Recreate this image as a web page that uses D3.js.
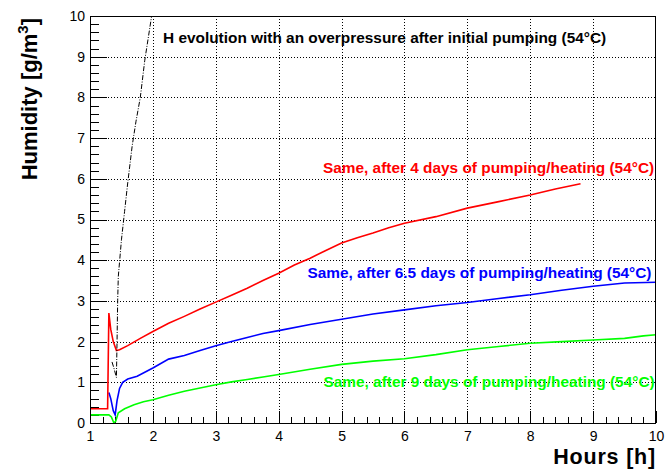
<!DOCTYPE html>
<html>
<head>
<meta charset="utf-8">
<script src="https://cdn.jsdelivr.net/npm/d3@7"></script>
<style>
  html, body { margin: 0; padding: 0; background: #fff; }
  svg { display: block; font-family: "Liberation Sans", Arial, Helvetica, sans-serif; }
</style>
</head>
<body>
<svg id="chart" width="667" height="469"></svg>
<script>
// Humidity readings [g/m^3] against elapsed hours for each run
const initialRun = [
  [1.35, 1.5], [1.38, 1.35], [1.42, 1.12], [1.43, 2.0], [1.44, 3.0], [1.45, 3.6],
  [1.50, 4.5], [1.55, 5.2], [1.60, 5.9], [1.67, 6.8], [1.73, 7.4], [1.80, 8.0],
  [1.87, 8.9], [1.93, 9.5], [1.98, 10.0]
];
const run4days = [
  [1.00, 0.35], [1.28, 0.35], [1.30, 2.7], [1.33, 2.3], [1.37, 2.0], [1.42, 1.78],
  [1.47, 1.8], [1.60, 1.9], [1.80, 2.08], [2.00, 2.25], [2.25, 2.45], [2.50, 2.62],
  [2.75, 2.8], [3.00, 2.97], [3.25, 3.14], [3.50, 3.31], [3.75, 3.5], [4.00, 3.68],
  [4.25, 3.88], [4.50, 4.05], [4.75, 4.24], [5.00, 4.42], [5.25, 4.55], [5.50, 4.67],
  [5.75, 4.8], [6.00, 4.91], [6.50, 5.07], [7.00, 5.28], [7.50, 5.44], [8.00, 5.6],
  [8.40, 5.75], [8.80, 5.88]
];
const run6p5days = [
  [1.30, 0.75], [1.33, 0.6], [1.37, 0.3], [1.40, 0.2], [1.43, 0.55], [1.47, 0.85],
  [1.52, 1.0], [1.60, 1.08], [1.75, 1.15], [2.00, 1.35], [2.25, 1.57], [2.50, 1.66],
  [2.75, 1.78], [3.00, 1.9], [3.25, 2.0], [3.50, 2.1], [3.75, 2.2], [4.00, 2.27],
  [4.50, 2.42], [5.00, 2.55], [5.50, 2.68], [6.00, 2.78], [6.50, 2.88], [7.00, 2.96],
  [7.50, 3.06], [8.00, 3.15], [8.50, 3.26], [9.00, 3.36], [9.50, 3.44], [10.00, 3.46]
];
const run9days = [
  [1.00, 0.2], [1.30, 0.2], [1.34, 0.15], [1.38, 0.0], [1.41, 0.05], [1.45, 0.25],
  [1.55, 0.35], [1.70, 0.45], [1.85, 0.52], [2.00, 0.57], [2.25, 0.68], [2.50, 0.78],
  [2.75, 0.86], [3.00, 0.94], [3.25, 1.01], [3.50, 1.07], [3.75, 1.13], [4.00, 1.19],
  [4.50, 1.32], [5.00, 1.44], [5.50, 1.52], [6.00, 1.58], [6.50, 1.68], [7.00, 1.8],
  [7.50, 1.88], [8.00, 1.96], [8.50, 2.0], [9.00, 2.04], [9.50, 2.08], [9.80, 2.14],
  [10.00, 2.17]
];

const xTicks = [1, 2, 3, 4, 5, 6, 7, 8, 9, 10];
const yTicks = [0, 1, 2, 3, 4, 5, 6, 7, 8, 9, 10];

const seriesLabels = [
  "H evolution with an overpressure after initial pumping (54\u00b0C)",
  "Same, after 4 days of pumping/heating (54\u00b0C)",
  "Same, after 6.5 days of pumping/heating (54\u00b0C)",
  "Same, after 9 days of pumping/heating (54\u00b0C)"
];

const svg = d3.select("#chart");
const plotLeft = 90, plotRight = 656, plotTop = 16, plotBottom = 423;

const x = d3.scaleLinear().domain([1, 10]).range([plotLeft, plotRight]);
const y = d3.scaleLinear().domain([0, 10]).range([plotBottom, plotTop]);

// Grid at major ticks
const grid = svg.append("g").attr("stroke", "#000").attr("stroke-width", 1)
  .attr("stroke-dasharray", "1,2").attr("shape-rendering", "crispEdges");
xTicks.slice(1, -1).forEach(t => {
  grid.append("line").attr("x1", Math.round(x(t)) + 0.5).attr("x2", Math.round(x(t)) + 0.5)
    .attr("y1", plotTop).attr("y2", plotBottom);
});
yTicks.slice(1, -1).forEach(t => {
  grid.append("line").attr("y1", Math.round(y(t)) + 0.5).attr("y2", Math.round(y(t)) + 0.5)
    .attr("x1", plotLeft).attr("x2", plotRight);
});

// Inward ticks
const xMinor = d3.range(1, 10.001, 0.2);
const yMinor = d3.range(0, 10.001, 0.2);
const xAxis = d3.axisBottom(x).tickValues(xTicks).tickSizeInner(-12).tickSizeOuter(0).tickPadding(8.5).tickFormat(d3.format("d"));
const xAxisMinor = d3.axisBottom(x).tickValues(xMinor).tickSizeInner(-6).tickSizeOuter(0).tickFormat("");
const yAxis = d3.axisLeft(y).tickValues(yTicks).tickSizeInner(-17).tickSizeOuter(0).tickPadding(5).tickFormat(d3.format("d"));
const yAxisMinor = d3.axisLeft(y).tickValues(yMinor).tickSizeInner(-8.5).tickSizeOuter(0).tickFormat("");

function styleAxis(g) {
  g.select(".domain").remove();
  g.selectAll("line").attr("stroke", "#000").attr("shape-rendering", "crispEdges");
  g.selectAll("text").attr("font-size", 14).attr("fill", "#000")
    .attr("font-family", "'Liberation Sans', Arial, sans-serif");
}
svg.append("g").attr("transform", `translate(0,${plotBottom})`).call(xAxisMinor).call(styleAxis);
svg.append("g").attr("transform", `translate(0,${plotBottom})`).call(xAxis).call(styleAxis);
svg.append("g").attr("transform", `translate(${plotLeft},0)`).call(yAxisMinor).call(styleAxis);
svg.append("g").attr("transform", `translate(${plotLeft},0)`).call(yAxis).call(styleAxis);

// Curves
svg.append("defs").append("clipPath").attr("id", "plotArea")
  .append("rect").attr("x", plotLeft).attr("y", plotTop)
  .attr("width", plotRight - plotLeft).attr("height", plotBottom - plotTop);

const line = d3.line().x(d => x(d[0])).y(d => y(d[1]));
const curves = svg.append("g").attr("clip-path", "url(#plotArea)").attr("fill", "none");

curves.append("path").datum(run9days).attr("d", line).attr("stroke", "#00ff00").attr("stroke-width", 1.6);
curves.append("path").datum(run6p5days).attr("d", line).attr("stroke", "#0000ff").attr("stroke-width", 1.6);
curves.append("path").datum(run4days).attr("d", line).attr("stroke", "#ff0000").attr("stroke-width", 1.6);
curves.append("path").datum(initialRun).attr("d", line).attr("stroke", "#000").attr("stroke-width", 1)
  .attr("stroke-dasharray", "5,1.5,1,1.5");

// Frame
svg.append("rect").attr("x", plotLeft + 0.5).attr("y", plotTop + 0.5)
  .attr("width", plotRight - plotLeft - 1).attr("height", plotBottom - plotTop)
  .attr("fill", "none").attr("stroke", "#000").attr("stroke-width", 1).attr("shape-rendering", "crispEdges");

// Series captions
const captions = [
  { text: seriesLabels[0], x: 163, y: 43, color: "#000" },
  { text: seriesLabels[1], x: 323, y: 172.5, color: "#ff0000" },
  { text: seriesLabels[2], x: 307.5, y: 278, color: "#0000ff" },
  { text: seriesLabels[3], x: 323.5, y: 387, color: "#00ff00" }
];
svg.append("g").selectAll("text").data(captions).join("text")
  .attr("x", d => d.x).attr("y", d => d.y)
  .attr("fill", d => d.color)
  .attr("font-size", 15.4).attr("font-weight", "bold")
  .text(d => d.text);

// Axis titles
svg.append("text").attr("x", 656).attr("y", 464.3).attr("text-anchor", "end")
  .attr("font-size", 21.5).attr("font-weight", "bold").attr("letter-spacing", 0.8)
  .text("Hours [h]");

const yTitle = svg.append("text")
  .attr("transform", "translate(37,18) rotate(-90)")
  .attr("text-anchor", "end").attr("font-size", 22).attr("font-weight", "bold");
yTitle.append("tspan").text("Humidity [g/m");
yTitle.append("tspan").attr("font-size", 15).attr("dy", -9).text("3");
yTitle.append("tspan").attr("dy", 9).text("]");
</script>
</body>
</html>
